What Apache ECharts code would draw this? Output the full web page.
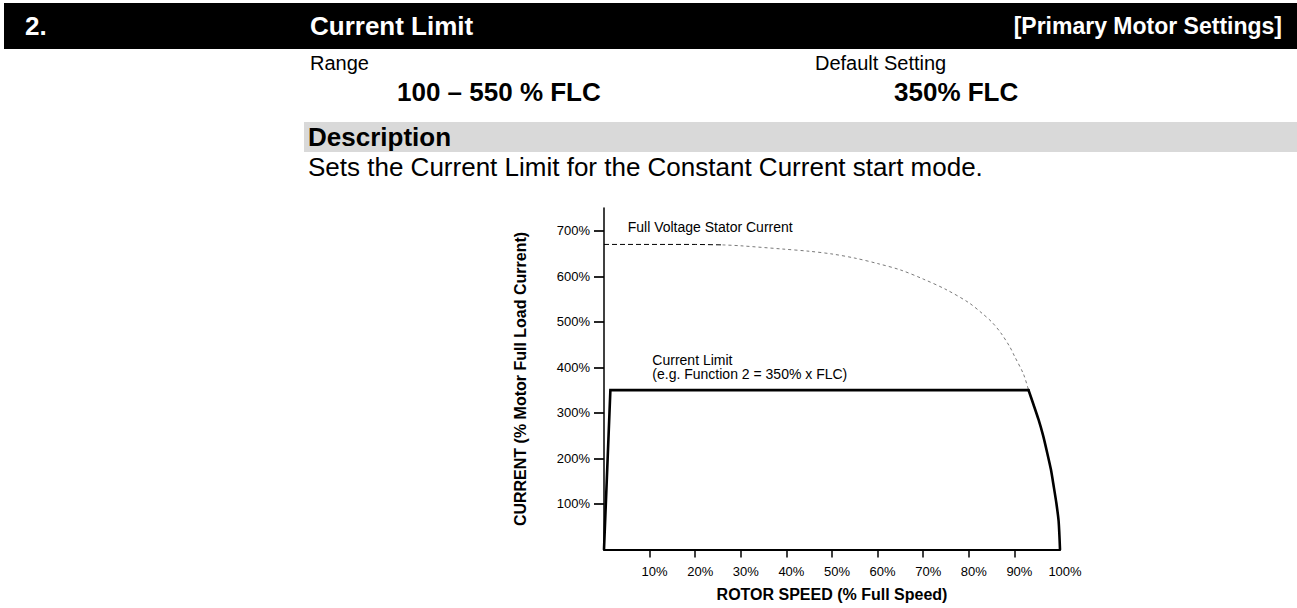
<!DOCTYPE html>
<html>
<head>
<meta charset="utf-8">
<script src="https://cdn.jsdelivr.net/npm/echarts@6/dist/echarts.min.js"></script>
<style>
  html, body { margin: 0; padding: 0; background: #fff; }
  #chart { width: 1297px; height: 608px; }
</style>
</head>
<body>
<div id="chart"></div>
<script>
// Full-voltage stator current vs rotor speed (% FLC against % full speed)
const fullVoltageSpeed   = [0, 10, 20, 26, 30, 39, 45, 50, 55, 60, 65, 70, 75, 80, 83, 85, 87, 89, 90, 92, 93.1];
const fullVoltageCurrent = [670, 670, 670, 669, 667, 660, 655, 649, 640, 628, 614, 594, 571, 542, 518, 500, 476, 445, 425, 385, 350];

// Constant-current start: ramp up, hold at the 350 % limit
const limitSpeed   = [0, 1.4, 93.1];
const limitCurrent = [0, 350, 350];

// ...then fall away along the full-voltage characteristic to full speed
const runoutSpeed   = [93.1, 94.2, 95.3, 96.3, 97.2, 98, 98.6, 99.2, 99.7, 100];
const runoutCurrent = [350, 318, 285, 250, 212, 176, 140, 102, 62, 0];

// Axis ticks and labels
const speedTicks    = [10, 20, 30, 40, 50, 60, 70, 80, 90];
const speedLabels   = [10, 20, 30, 40, 50, 60, 70, 80, 90, 100];
const currentTicks  = [100, 200, 300, 400, 500, 600, 700];

const FONT = '"Liberation Sans", Arial, Helvetica, sans-serif';

function pairs(xs, ys) { return xs.map((x, i) => [x, ys[i]]); }

const fvAll = pairs(fullVoltageSpeed, fullVoltageCurrent);
const flatEnd = fullVoltageSpeed.indexOf(26);
const fvFlat = fvAll.slice(0, flatEnd + 1);
const fvCurve = fvAll.slice(flatEnd);

const chart = echarts.init(document.getElementById('chart'), null, { renderer: 'svg' });

const solid = { color: '#000', width: 2.6, join: 'miter', cap: 'round' };

const option = {
  animation: false,
  backgroundColor: '#fff',
  grid: { left: 604, right: 237, top: 208, bottom: 58.5, containLabel: false },
  xAxis: {
    type: 'value', min: 0, max: 100,
    axisLine: { show: true, lineStyle: { color: '#000', width: 2 } },
    axisTick: { show: true, length: 8, inside: false, customValues: speedTicks, lineStyle: { color: '#000', width: 1.5 } },
    axisLabel: {
      customValues: speedLabels, formatter: v => v + '%',
      color: '#000', fontFamily: FONT, fontSize: 13, margin: 15, padding: [0, 0, 0, 10]
    },
    splitLine: { show: false },
    name: 'ROTOR SPEED (% Full Speed)', nameLocation: 'middle', nameGap: 37,
    nameTextStyle: { color: '#000', fontFamily: FONT, fontSize: 16, fontWeight: 'bold' }
  },
  yAxis: {
    type: 'value', min: 0, max: 750,
    axisLine: { show: true, lineStyle: { color: '#000', width: 1.5 } },
    axisTick: { show: true, length: 10, customValues: currentTicks, lineStyle: { color: '#000', width: 1.7 } },
    axisLabel: {
      customValues: currentTicks, formatter: v => v + '%',
      color: '#000', fontFamily: FONT, fontSize: 13, margin: 14
    },
    splitLine: { show: false }
  },
  series: [
    {
      type: 'line', data: fvFlat, symbol: 'none', silent: true,
      lineStyle: { color: '#000', width: 1, type: [5, 3] }
    },
    {
      type: 'line', data: fvCurve, symbol: 'none', silent: true, smooth: 0.3,
      lineStyle: { color: '#6a6a6a', width: 0.9, type: [3, 3] }
    },
    {
      type: 'line', data: pairs(limitSpeed, limitCurrent), symbol: 'none', silent: true,
      lineStyle: solid
    },
    {
      type: 'line', data: pairs(runoutSpeed, runoutCurrent), symbol: 'none', silent: true,
      smooth: 0.25,
      lineStyle: solid
    }
  ]
};

chart.setOption(option);

// Page heading, setting block and chart annotations
const px = (x, y) => chart.convertToPixel({ gridIndex: 0 }, [x, y]);
const fvLabel = px(5.2, 709);
const clLabel = px(10.6, 400);

const text = (x, y, str, size, opts = {}) => ({
  type: 'text', x, y, silent: true,
  style: Object.assign({
    text: str, fill: '#000', fontFamily: FONT, fontSize: size,
    textAlign: 'left', textVerticalAlign: 'middle'
  }, opts)
});

chart.setOption({
  graphic: [
    { type: 'rect', shape: { x: 4, y: 3, width: 1293, height: 46 }, style: { fill: '#000' }, silent: true },
    text(25, 26, '2.', 26, { fill: '#fff', fontWeight: 'bold' }),
    text(310, 26, 'Current Limit', 26, { fill: '#fff', fontWeight: 'bold' }),
    text(1282, 26, '[Primary Motor Settings]', 23, { fill: '#fff', fontWeight: 'bold', textAlign: 'right' }),

    text(310, 63, 'Range', 20),
    text(397, 92, '100 \u2013 550 % FLC', 26, { fontWeight: 'bold' }),
    text(815, 63, 'Default Setting', 20),
    text(894, 92, '350% FLC', 26, { fontWeight: 'bold' }),

    { type: 'rect', shape: { x: 304, y: 122, width: 993, height: 30 }, style: { fill: '#d9d9d9' }, silent: true },
    text(308, 137, 'Description', 26, { fontWeight: 'bold' }),
    text(308, 167, 'Sets the Current Limit for the Constant Current start mode.', 26),

    {
      type: 'text', x: 520, y: 379, rotation: Math.PI / 2, silent: true,
      style: {
        text: 'CURRENT (% Motor Full Load Current)', fill: '#000', fontFamily: FONT,
        fontSize: 16, fontWeight: 'bold', textAlign: 'center', textVerticalAlign: 'middle'
      }
    },

    text(fvLabel[0], fvLabel[1], 'Full Voltage Stator Current', 14),
    text(clLabel[0], clLabel[1], 'Current Limit\n(e.g. Function 2 = 350% x FLC)', 14, { lineHeight: 14 })
  ]
});
</script>
</body>
</html>
